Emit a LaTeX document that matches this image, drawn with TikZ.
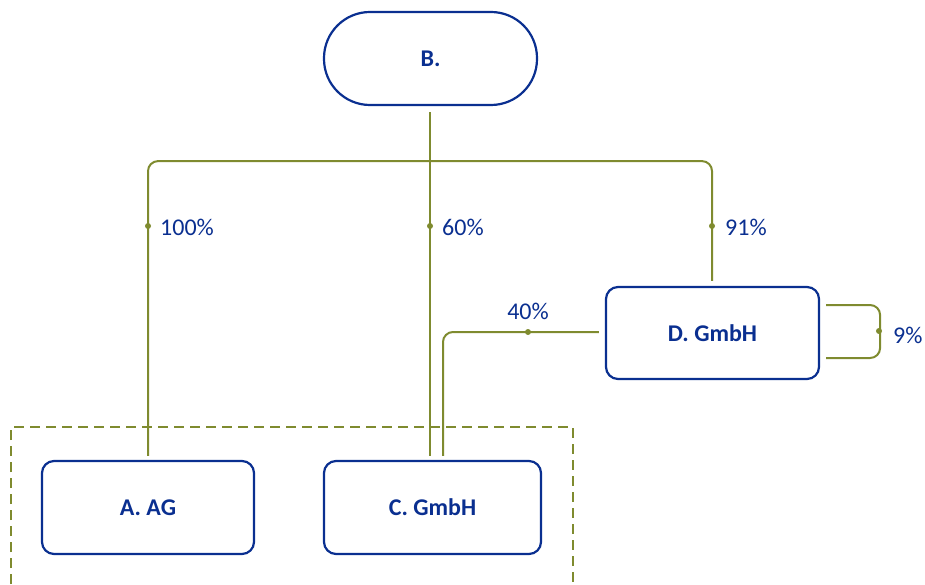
\documentclass[tikz,border=0pt]{standalone}
\usepackage{fontspec}
\setmainfont{Carlito}
\usetikzlibrary{calc}
\definecolor{kblue}{HTML}{0A2F90}
\definecolor{kolive}{HTML}{7F8B2F}
\tikzset{
  box/.style={draw=kblue, line width=2.2pt, rounded corners=12pt, minimum width=213pt, minimum height=93pt,
    font=\fontsize{24}{28}\selectfont\bfseries, text=kblue, inner sep=0pt},
  pill/.style={box, rounded corners=46pt},
  link/.style={draw=kolive, line width=2pt, rounded corners=10pt},
  lbl/.style={font=\fontsize{24}{28}\selectfont, text=kblue, inner sep=0pt},
  dotmark/.style={fill=kolive, circle, inner sep=0pt, minimum size=6pt},
  grp/.style={draw=kolive, line width=2pt, dash pattern=on 10pt off 6pt}
}
\begin{document}
\begin{tikzpicture}[x=1pt,y=-1pt]
\clip (0,0) rectangle (925,585);
\useasboundingbox (0,0) rectangle (925,585);
\node[pill] (B) at (430.5,58.5) {B.};
\node[box, minimum width=212pt] (A) at (148,507.5) {A. AG};
\node[box, minimum width=217pt] (C) at (432.5,507.5) {C. GmbH};
\node[box, minimum height=92pt] (D) at (712.5,333) {D. GmbH};
% group box
\coordinate (g1) at (11,600);
\coordinate (g2) at (11,427);
\coordinate (g3) at (573,427);
\coordinate (g4) at (573,600);
\draw[grp] (g1) -- (g2) -- (g3) -- (g4);
% links
\draw[link] ($(B.south)+(-0.5,6)$) -- ($(C.north)+(-2.5,-4)$);
\draw[link] ($(A.north)+(0,-4)$) |- ($(B.south)+(0,55)$) -| ($(D.north)+(-0.5,-5)$);
\draw[link] ($(D.west)+(-6,-1)$) -| ($(C.north)+(10.5,-4)$);
\draw[link] ($(D.east)+(6,-28)$) -- ++(54,0) -- ++(0,53) -- ++(-54,0);
% dots and labels
\node[dotmark] (d1) at (148,226) {};
\node[dotmark] (d2) at (430,226) {};
\node[dotmark] (d3) at (712,226) {};
\node[dotmark] (d4) at (528,332) {};
\node[dotmark] (d5) at (879,331) {};
\node[lbl, anchor=west] (l1) at (160,227) {100\%};
\node[lbl, anchor=west] (l2) at (442,227) {60\%};
\node[lbl, anchor=west] (l3) at (725,227) {91\%};
\node[lbl] (l4) at (528,311) {40\%};
\node[lbl, anchor=west] (l5) at (893,335) {9\%};
\end{tikzpicture}
\end{document}
